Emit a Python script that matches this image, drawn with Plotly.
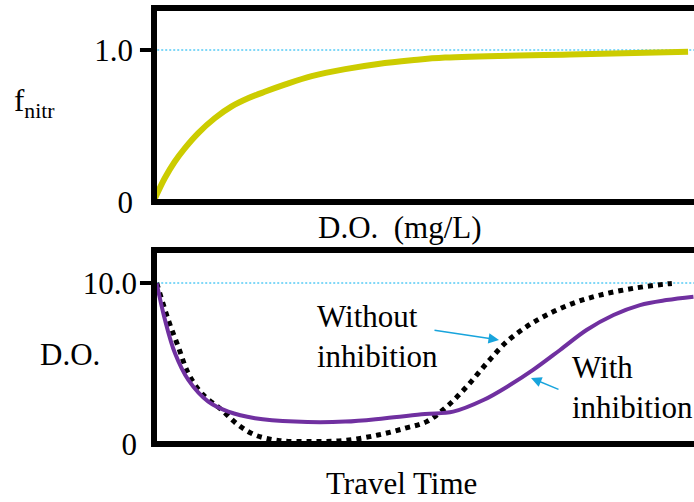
import plotly.graph_objects as go

# ---- data ----
do_x = [0, 0.198, 0.383, 0.569, 0.815, 1.124, 1.431, 1.741, 2.05, 2.42, 2.92, 3.54, 4.15, 4.77, 5.39, 7.70, 9.89]
f_nitr = [0.01, 0.156, 0.265, 0.353, 0.452, 0.551, 0.627, 0.682, 0.725, 0.772, 0.828, 0.874, 0.908, 0.932,
          0.950, 0.971, 0.988]

t_without = [0.05, 0.265, 0.45, 0.635, 0.883, 1.254, 1.561, 1.87, 2.30, 2.92, 3.54, 4.15, 4.65,
             5.05, 5.42, 5.79, 6.16, 6.53, 6.90, 7.27, 7.76, 8.26, 8.88, 9.49, 9.59]
do_without = [10.0, 7.70, 6.04, 4.39, 3.15, 2.11, 1.18, 0.56, 0.22, 0.15, 0.22, 0.56, 0.98,
              1.39, 2.32, 3.56, 5.01, 6.35, 7.29, 8.01, 8.74, 9.25, 9.67, 9.94, 9.97]

t_with = [0.05, 0.204, 0.389, 0.635, 1.006, 1.376, 1.87, 2.61, 3.54, 4.28, 5.02, 5.54, 6.10,
          6.59, 7.02, 7.52, 8.01, 8.51, 9.00, 9.49, 9.99]
do_with = [9.98, 7.70, 5.63, 3.98, 2.63, 2.01, 1.60, 1.39, 1.39, 1.60, 1.86, 2.01, 2.73,
           3.66, 4.60, 5.84, 7.08, 8.01, 8.63, 8.94, 9.15]

top_ticks = [0, 1.0]
top_ticktext = ["0", "1.0"]
bot_ticks = [0, 10.0]
bot_ticktext = ["0", "10.0"]

W, H = 694, 502          # reference picture size
HF = 520                 # figure height (the page photo is scaled to 502 high)
FONT = "Liberation Serif, Times New Roman, serif"
FS = 31
ARROW = "#18A4DC"
REF = "#00B0F0"

def px_x(p):
    return p / W

def px_y(p):
    return 1 - p / H

fig = go.Figure()
fig.add_trace(go.Scatter(x=do_x, y=f_nitr, mode="lines", line=dict(color="#CCCC00", width=6, shape="spline"),
                         xaxis="x", yaxis="y", showlegend=False))
fig.add_trace(go.Scatter(x=t_without, y=do_without, mode="lines",
                         line=dict(color="black", width=5, dash="dot", shape="spline"),
                         xaxis="x2", yaxis="y2", showlegend=False))
fig.add_trace(go.Scatter(x=t_with, y=do_with, mode="lines",
                         line=dict(color="#7030A0", width=4, shape="spline"),
                         xaxis="x2", yaxis="y2", showlegend=False))

xdom = [px_x(154), 1.0]
fig.update_layout(
    width=W, height=HF, margin=dict(l=0, r=0, t=0, b=0),
    paper_bgcolor="white", plot_bgcolor="white",
    font=dict(family=FONT, size=FS, color="black"),
    xaxis=dict(domain=xdom, range=[0, 10], visible=False),
    yaxis=dict(domain=[px_y(202), px_y(8)], range=[0, 194 / 152], showgrid=False, zeroline=False,
               tickvals=top_ticks, ticktext=top_ticktext, ticks="", ticklabelstandoff=20,
               tickfont=dict(family=FONT, size=FS)),
    xaxis2=dict(domain=xdom, range=[0, 10], visible=False),
    yaxis2=dict(domain=[px_y(444), px_y(250)], range=[0, 194 / 16.1], showgrid=False, zeroline=False,
                tickvals=bot_ticks, ticktext=bot_ticktext, ticks="", ticklabelstandoff=16,
                tickfont=dict(family=FONT, size=FS)),
)

shapes = []
for xr, yr, refv, in [("x", "y", 1.0), ("x2", "y2", 10.0)]:
    # reference dotted line
    shapes.append(dict(type="line", xref=xr + " domain", yref=yr, x0=0.006, x1=1, y0=refv, y1=refv,
                       line=dict(color=REF, width=1, dash="2px,2px"), layer="below"))
    # borders: top, left, bottom
    for (x0, y0, x1, y1) in [(-0.0055, 1, 1, 1), (0, 1, 0, 0), (-0.0055, 0, 1, 0)]:
        shapes.append(dict(type="line", xref=xr + " domain", yref=yr + " domain",
                           x0=x0, y0=y0, x1=x1, y1=y1, line=dict(color="black", width=6), layer="above"))
    # tick mark at the reference value
    shapes.append(dict(type="line", xref=xr + " domain", yref=yr, x0=-0.026, x1=0, y0=refv, y1=refv,
                       line=dict(color="black", width=4), layer="above"))
fig.update_layout(shapes=shapes)

ann = [
    dict(text="f<sub>nitr</sub>", x=px_x(12), y=px_y(103), xanchor="left", yanchor="middle"),
    dict(text="D.O.", x=px_x(38), y=px_y(354), xanchor="left", yanchor="middle"),
    dict(text="D.O.\u00a0 (mg/L)", x=px_x(400), y=px_y(227), xanchor="center", yanchor="middle"),
    dict(text="Travel Time", x=px_x(401), y=px_y(483), xanchor="center", yanchor="middle"),
    dict(text="Without<br>inhibition", x=px_x(315), y=px_y(336), xanchor="left", yanchor="middle", align="left"),
    dict(text="With<br>inhibition", x=px_x(570), y=px_y(387), xanchor="left", yanchor="middle", align="left"),
]
annotations = []
for a in ann:
    a.update(xref="paper", yref="paper", showarrow=False, font=dict(family=FONT, size=FS, color="black"))
    annotations.append(a)

# arrows (tip in data coordinates, tail offset in pixels)
annotations.append(dict(text="", x=(499 - 154) / 54, y=(444 - 340) / 16.1, xref="x2", yref="y2",
                        ax=-66, ay=-10, showarrow=True, arrowhead=2, arrowsize=1.4, arrowwidth=1.5,
                        arrowcolor=ARROW, standoff=0))
annotations.append(dict(text="", x=(531 - 154) / 54, y=(444 - 378) / 16.1, xref="x2", yref="y2",
                        ax=29, ay=12, showarrow=True, arrowhead=2, arrowsize=1.4, arrowwidth=1.5,
                        arrowcolor=ARROW, standoff=0))
fig.update_layout(annotations=annotations)

post = ("var gd=document.getElementById('{plot_id}');"
        "gd.style.position='fixed';gd.style.top='0px';gd.style.left='0px';"
        "document.body.style.margin='0';document.documentElement.style.overflow='hidden';"
        "document.body.style.overflow='hidden';")
fig.write_html("out.html", config={"displayModeBar": False}, post_script=post)
